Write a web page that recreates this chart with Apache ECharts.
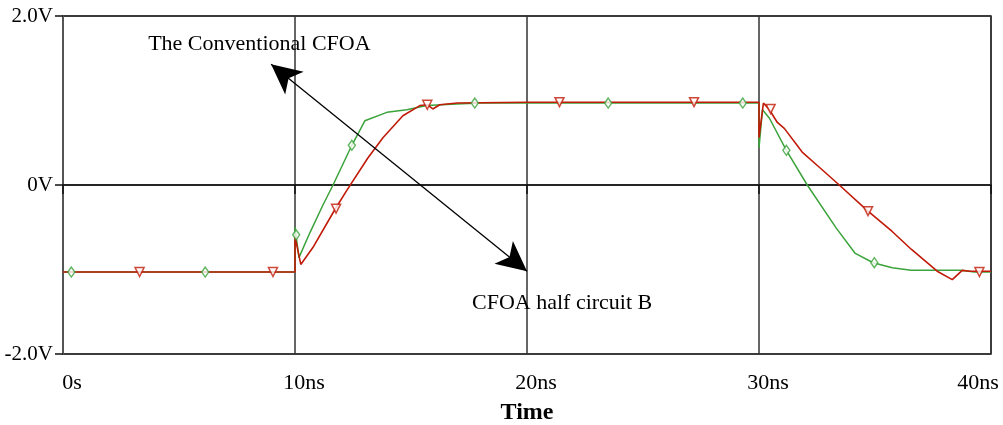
<!DOCTYPE html>
<html>
<head>
<meta charset="utf-8">
<script src="https://cdn.jsdelivr.net/npm/echarts@6/dist/echarts.min.js"></script>
<style>
html,body{margin:0;padding:0;background:#fff;}
#c{width:1003px;height:425px;}
</style>
</head>
<body>
<div id="c"></div>
<script>
// Time axis ticks (ns) and voltage ticks (V)
const xTicks = [0, 10, 20, 30, 40];
const yTicks = [-2, 0, 2];

// Green trace [time ns, volts]
const greenT = [0, 10, 10, 10.17, 10.65, 11.2, 11.64, 12.45, 13.01, 13.96, 14.82, 15.68, 16.97, 18, 30, 30, 30.15, 30.45, 31.18, 32.08, 33.33, 34.15, 34.92, 35.74, 36.56, 38.71, 39.27, 40];
const greenV = [-1.03, -1.03, -0.50, -0.86, -0.56, -0.24, 0.0, 0.47, 0.76, 0.86, 0.89, 0.94, 0.96, 0.97, 0.97, 0.44, 0.89, 0.79, 0.41, 0.0, -0.51, -0.81, -0.92, -0.98, -1.01, -1.01, -1.03, -1.03];

// Red trace [time ns, volts]
const redT = [0, 10, 10, 10.25, 10.77, 11.72, 12.24, 13.14, 13.79, 14.65, 15.38, 15.7, 15.94, 16.24, 17, 20, 30, 30, 30.19, 30.45, 30.79, 31.09, 31.86, 32.6, 33.46, 34.66, 35.74, 36.56, 37.68, 38.33, 38.76, 39.1, 39.49, 40];
const redV = [-1.03, -1.03, -0.61, -0.94, -0.74, -0.29, -0.06, 0.32, 0.56, 0.82, 0.94, 0.95, 0.90, 0.95, 0.97, 0.98, 0.98, 0.56, 0.97, 0.89, 0.74, 0.67, 0.39, 0.21, 0.0, -0.30, -0.55, -0.76, -1.02, -1.12, -1.01, -1.02, -1.02, -1.02];

// Marker positions
const greenMarkT = [0.36, 6.13, 10.05, 12.45, 17.75, 23.5, 29.3, 31.18, 34.97];
const greenMarkV = [-1.03, -1.03, -0.59, 0.47, 0.97, 0.97, 0.97, 0.41, -0.92];
const redMarkT = [3.3, 9.05, 11.77, 15.7, 21.4, 27.2, 30.5, 34.7, 39.5];
const redMarkV = [-1.03, -1.03, -0.28, 0.95, 0.98, 0.98, 0.90, -0.31, -1.03];

// Annotations
const label1 = "The Conventional CFOA";
const label2 = "CFOA half circuit B";
const label1Pos = [3.67, 1.67];
const label2Pos = [17.63, -1.40];
const arrowStart = [8.97, 1.43];
const arrowEnd = [20.0, -1.02];

const zip = (a, b) => a.map((v, i) => [v, b[i]]);

const FONT = "'Liberation Serif', 'Times New Roman', serif";
const chart = echarts.init(document.getElementById('c'));
chart.setOption({
  animation: false,
  backgroundColor: '#fff',
  grid: { left: 63, right: 12, top: 16, bottom: 71, containLabel: false, outerBoundsMode: 'none',
          show: true, borderColor: '#222', borderWidth: 1.5 },
  xAxis: {
    type: 'value', min: xTicks[0], max: xTicks[xTicks.length - 1], interval: 10,
    name: 'Time', nameLocation: 'middle', nameGap: 47,
    nameTextStyle: { fontFamily: FONT, fontSize: 24, fontWeight: 'bold', color: '#000' },
    axisLine: { show: true, lineStyle: { color: '#111', width: 1.5 } },
    axisTick: { show: true, length: 9, lineStyle: { color: '#111', width: 1.5 } },
    splitLine: { show: true, lineStyle: { color: '#333', width: 1.5 } },
    axisLabel: {
      margin: 18, fontFamily: FONT, fontSize: 22, color: '#000',
      formatter: v => (v === 40 ? '{b|' + v + 'ns}' : '{a|' + (v === 0 ? '0s' : v + 'ns') + '}'),
      rich: { a: { fontFamily: FONT, fontSize: 22, color: '#000', padding: [0, 0, 0, 18] },
              b: { fontFamily: FONT, fontSize: 22, color: '#000', padding: [0, 26, 0, 0] } }
    }
  },
  yAxis: {
    type: 'value', min: yTicks[0], max: yTicks[yTicks.length - 1], interval: 2,
    axisLine: { show: true, lineStyle: { color: '#555', width: 2 } },
    axisTick: { show: true, length: 8, lineStyle: { color: '#111', width: 1.5 } },
    splitLine: { show: true, lineStyle: { color: '#333', width: 1.5 } },
    axisLabel: {
      margin: 10, fontFamily: FONT, fontSize: 21, color: '#000',
      formatter: v => (v === 0 ? '0V' : v.toFixed(1) + 'V')
    }
  },
  series: [
    {
      type: 'line', data: zip(greenT, greenV), showSymbol: false, symbol: 'none',
      lineStyle: { color: '#3ca33c', width: 1.5 }, z: 3
    },
    {
      type: 'line', data: zip(redT, redV), showSymbol: false, symbol: 'none',
      lineStyle: { color: '#c01a08', width: 1.6 }, z: 4,
      markLine: {
        silent: true, symbol: ['arrow', 'arrow'], symbolSize: [22, 30],
        lineStyle: { color: '#000', width: 1.3, type: 'solid' },
        label: { show: false },
        data: [[{ coord: arrowStart }, { coord: arrowEnd }]]
      },
      markPoint: {
        silent: true, symbol: 'circle', symbolSize: 0,
        data: [
          { coord: label1Pos, label: { show: true, position: 'right', distance: 0, formatter: label1, fontFamily: FONT, fontSize: 22, color: '#000' } },
          { coord: label2Pos, label: { show: true, position: 'right', distance: 0, formatter: label2, fontFamily: FONT, fontSize: 22, color: '#000' } }
        ]
      }
    },
    {
      type: 'scatter', data: zip(greenMarkT, greenMarkV), symbol: 'diamond', symbolSize: [7, 10],
      itemStyle: { color: '#fff', borderColor: '#3ca33c', borderWidth: 1.5 }, z: 5
    },
    {
      type: 'scatter', data: zip(redMarkT, redMarkV), symbol: 'triangle', symbolRotate: 180, symbolSize: [9, 9],
      itemStyle: { color: '#fff', borderColor: '#c01a08', borderWidth: 1.5 }, z: 6
    }
  ]
});
</script>
</body>
</html>
